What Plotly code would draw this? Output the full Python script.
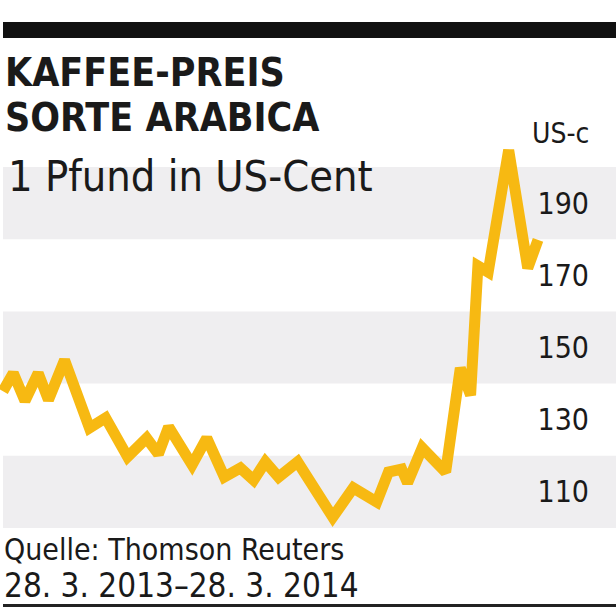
import plotly.graph_objects as go
from datetime import datetime, timedelta

# ---- data ----
dates = [
    "2013-03-28", "2013-04-04", "2013-04-12", "2013-04-21", "2013-04-28",
    "2013-05-09", "2013-05-26", "2013-06-06", "2013-06-21", "2013-07-04",
    "2013-07-12", "2013-07-19", "2013-08-04", "2013-08-14", "2013-08-26",
    "2013-09-06", "2013-09-15", "2013-09-23", "2013-10-02", "2013-10-15",
    "2013-11-08", "2013-11-22", "2013-12-08", "2013-12-16", "2013-12-25",
    "2013-12-29", "2014-01-08", "2014-01-24", "2014-02-03", "2014-02-10",
    "2014-02-15", "2014-02-22", "2014-03-08", "2014-03-21", "2014-03-28",
]
prices = [
    137.9, 142.9, 135.2, 142.9, 135.5,
    146.5, 127.7, 130.5, 119.7, 124.9,
    120.5, 128.0, 117.5, 124.9, 114.1,
    116.6, 113.3, 118.3, 114.1, 118.3,
    103.0, 111.1, 107.2, 115.5, 116.3,
    112.5, 122.2, 115.5, 144.3, 136.8,
    172.6, 170.9, 204.7, 172.0, 179.8,
]
tick_values = [110, 130, 150, 170, 190]
tick_labels = ["110", "130", "150", "170", "190"]
band_ranges = [(100, 120), (140, 160), (180, 200)]

title_lines = ["KAFFEE-PREIS", "SORTE ARABICA"]
subtitle = "1 Pfund in US-Cent"
unit_label = "US-c"
source_lines = ["Quelle: Thomson Reuters", "28. 3. 2013\u201328. 3. 2014"]

# ---- style ----
W, H = 616, 608
LINE_COLOR = "#F7B912"
BAND_COLOR = "#EFEEF0"
TEXT_COLOR = "#1a1a1a"
COND = "DejaVu Sans Condensed, Liberation Sans Narrow, sans-serif"

def px(x):
    return x / W

def py(y):
    return 1 - y / H

# x-axis mapping: first point at px 3, last at px 538
start = datetime(2013, 3, 28)
end = datetime(2014, 3, 28)
days = (end - start).days
ppd = (538 - 3) / days
x_range = [start - timedelta(days=3 / ppd), start + timedelta(days=(W - 3) / ppd)]

# y-axis mapping: 100 at px 528, 200 at px 167
ppu = (528 - 167) / 100.0
y_range = [100 - (H - 528) / ppu, 100 + 528 / ppu]

fig = go.Figure()
fig.add_trace(go.Scatter(
    x=dates, y=prices, mode="lines",
    line=dict(color=LINE_COLOR, width=11),
    hoverinfo="skip", showlegend=False,
))

shapes = []
for lo, hi in band_ranges:
    shapes.append(dict(type="rect", xref="paper", yref="y", x0=px(3), x1=1,
                       y0=lo, y1=hi, fillcolor=BAND_COLOR, line_width=0, layer="below"))
shapes.append(dict(type="rect", xref="paper", yref="paper", x0=px(3), x1=1,
                   y0=py(38), y1=py(22), fillcolor="#111111", line_width=0))
shapes.append(dict(type="rect", xref="paper", yref="paper", x0=px(3), x1=1,
                   y0=py(607), y1=py(604), fillcolor="#222222", line_width=0))

annotations = [
    dict(text="<b>" + title_lines[0] + "</b>", x=px(3), y=py(73), xanchor="left", yanchor="middle",
         font=dict(family=COND, size=39, color=TEXT_COLOR)),
    dict(text="<b>" + title_lines[1] + "</b>", x=px(3), y=py(118), xanchor="left", yanchor="middle",
         font=dict(family=COND, size=39, color=TEXT_COLOR)),
    dict(text=subtitle, x=px(6), y=py(176), xanchor="left", yanchor="middle",
         font=dict(family=COND, size=43, color=TEXT_COLOR)),
    dict(text=unit_label, x=px(591), y=py(133), xanchor="right", yanchor="middle",
         font=dict(family=COND, size=28, color=TEXT_COLOR)),
    dict(text=source_lines[0], x=px(2), y=py(549), xanchor="left", yanchor="middle",
         font=dict(family=COND, size=30, color=TEXT_COLOR)),
    dict(text=source_lines[1], x=px(2), y=py(585), xanchor="left", yanchor="middle",
         font=dict(family=COND, size=33, color=TEXT_COLOR)),
]
for a in annotations:
    a.update(xref="paper", yref="paper", showarrow=False)

fig.update_layout(
    width=W, height=H,
    margin=dict(l=0, r=0, t=0, b=0),
    paper_bgcolor="white", plot_bgcolor="white",
    shapes=shapes, annotations=annotations,
    xaxis=dict(type="date", range=x_range, visible=False, fixedrange=True),
    yaxis=dict(range=y_range, side="right", tickvals=tick_values, ticktext=tick_labels,
               showgrid=False, zeroline=False, showline=False, ticks="",
               ticklabelposition="inside", ticklabelstandoff=24,
               tickfont=dict(family=COND, size=30, color=TEXT_COLOR), fixedrange=True),
)

fig.write_html(
    "out.html",
    config={"displayModeBar": False},
    post_script="document.body.style.margin='0';document.body.style.overflow='hidden';",
)
